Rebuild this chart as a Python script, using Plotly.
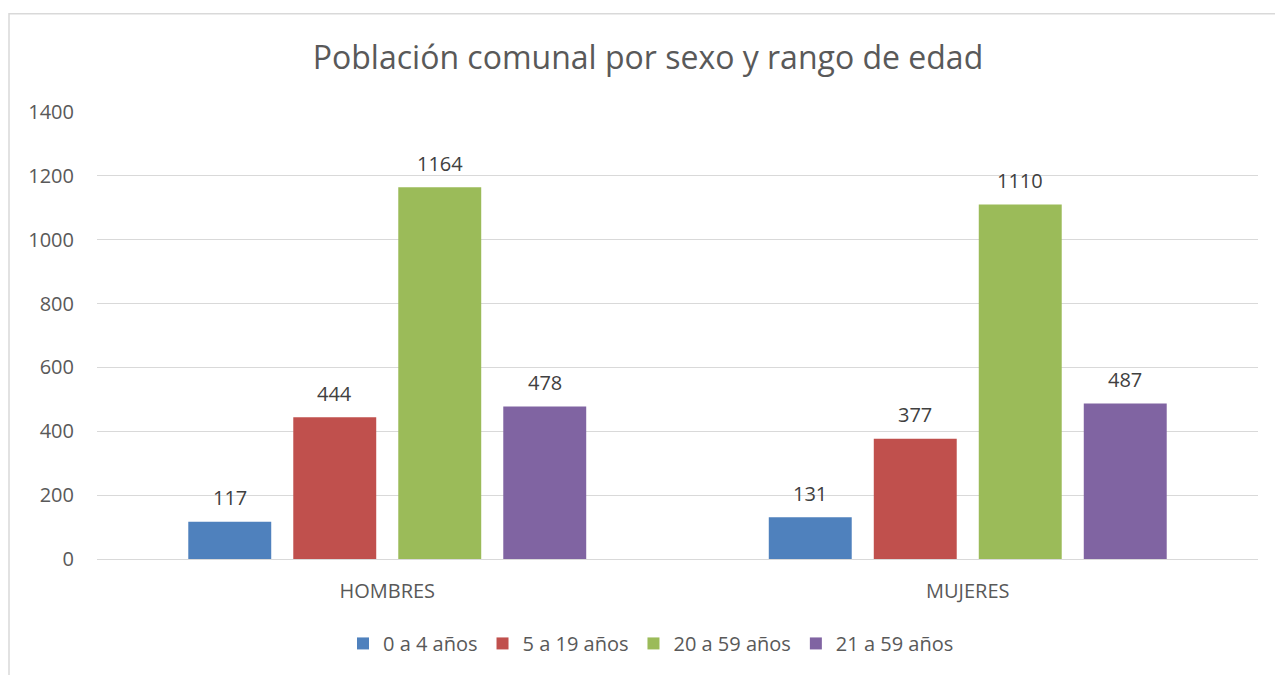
import plotly.graph_objects as go

categories = ["HOMBRES", "MUJERES"]
series_names = ["0 a 4 años", "5 a 19 años", "20 a 59 años", "21 a 59 años"]
values_0_4 = [117, 131]
values_5_19 = [444, 377]
values_20_59 = [1164, 1110]
values_21_59 = [478, 487]
colors = ["#4F81BD", "#C0504D", "#9BBB59", "#8064A2"]
y_ticks = [0, 200, 400, 600, 800, 1000, 1200, 1400]

all_values = [values_0_4, values_5_19, values_20_59, values_21_59]
FONT = "Open Sans"

# page body has an 8px margin; the figure is sized to fill the rest of the window
W, H = 1275, 667
L, R, T, B = 89, 25, 104, 113
PW = W - L - R
PH = H - T - B

fig = go.Figure()
for name, vals, col in zip(series_names, all_values, colors):
    fig.add_trace(go.Bar(x=categories, y=vals, name=name, marker=dict(color=col, line=dict(width=0))))

slot = 105
annotations = []
for i, vals in enumerate(all_values):
    for c, v in zip(categories, vals):
        annotations.append(dict(x=c, y=v, xref="x", yref="y", text=str(v), showarrow=False,
                                xshift=(i - 1.5) * slot, yshift=24,
                                font=dict(family=FONT, size=20, color="#404040")))

fig.update_layout(
    width=W, height=H,
    margin=dict(l=L, r=R, t=T, b=B),
    paper_bgcolor="white", plot_bgcolor="white",
    barmode="group", bargap=0.2765, bargroupgap=0.21,
    title=dict(text="Población comunal por sexo y rango de edad", x=(648 - 8) / W, xanchor="center",
               y=1 - 50 / H, yanchor="middle", yref="container",
               font=dict(family=FONT, size=32, color="#595959")),
    font=dict(family=FONT, color="#595959"),
    xaxis=dict(showgrid=False, showline=False, ticks="", ticklabelstandoff=18,
               tickfont=dict(size=20, color="#595959")),
    yaxis=dict(range=[0, 1400], tickvals=y_ticks, showgrid=True, gridcolor="#d9d9d9", gridwidth=1,
               zeroline=True, zerolinecolor="#d9d9d9", zerolinewidth=1, showline=False,
               ticks="", ticklabelstandoff=22, tickfont=dict(size=20, color="#595959")),
    legend=dict(orientation="h", x=(651 - 97) / PW, xanchor="center", y=(562 - 647) / PH,
                yanchor="middle", font=dict(size=20, color="#595959"), itemwidth=30,
                traceorder="normal"),
    annotations=annotations,
    shapes=[dict(type="rect", xref="paper", yref="paper",
                 x0=(1 - L) / PW, x1=1.1, y0=-0.4, y1=(PH + T - 5) / PH,
                 line=dict(color="#d9d9d9", width=1.5), layer="below")],
)

fig.write_html("out.html")
